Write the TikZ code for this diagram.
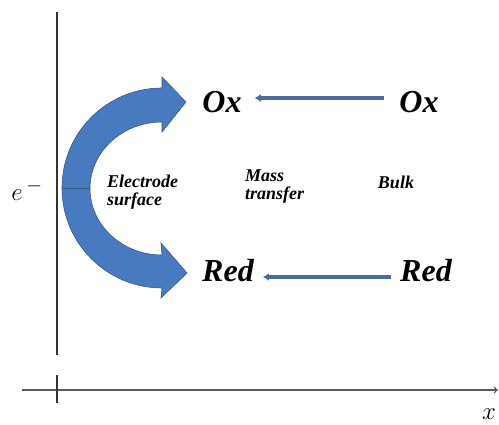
\documentclass[tikz,border=0pt]{standalone}
\usepackage{fontspec}
\setmainfont{Liberation Serif}
\usetikzlibrary{
    arrows.meta,
    positioning
}
\definecolor{arcblue}{RGB}{72,122,192}
\definecolor{arcedge}{RGB}{52,88,135}
\definecolor{fluxblue}{RGB}{72,108,158}

\begin{document}
\begin{tikzpicture}[
    x=1pt, y=1pt,
    >=Stealth,
    axis/.style={-{To[length=4pt,width=7pt]}, line width=1.1pt, black!65},
    electrode/.style={line width=2pt, black!80},
    flux/.style={-{Latex[length=6pt,width=8pt]}, line width=3.5pt, fluxblue},
    species/.style={font=\fontsize{32}{32}\selectfont\bfseries\itshape, inner sep=2pt},
    zone/.style={font=\fontsize{18}{18}\selectfont\bfseries\itshape, align=left, inner sep=0pt}
]
\useasboundingbox (0,0) rectangle (499,425);

% Electrode and distance axis
\coordinate (etop) at (57,413);
\coordinate (ebot) at (57,70);
\draw[electrode] (etop) -- (ebot);
\coordinate (xstart) at (22,35);
\coordinate (xend) at (498,35);
\draw[axis] (xstart) -- (xend);
\draw[electrode] (57,50) -- (57,22);
\node (xlab) at (489,11) {\fontsize{28}{28}\selectfont$x$};
\node (elec) at (27,235) {\fontsize{30}{30}\selectfont$e^{\,-}$};

% Curved arrow at the surface
\fill[arcblue, draw=arcedge, line width=0.6pt]
  (162,337) arc[start angle=90, end angle=270, radius=100]
  -- (161,127) -- (187,152) -- (161,182) -- (162,170)
  arc[start angle=270, end angle=90, x radius=72, y radius=66.5]
  -- (162,293) -- (186,323) -- (162,348) -- cycle;
\draw[arcedge, line width=0.6pt] (63,237) -- (90,237);

% Species
\node[species] (oxL) at (222,323) {Ox};
\node[species] (oxR) at (419,323) {Ox};
\node[species] (redL) at (228,154) {Red};
\node[species] (redR) at (426,154) {Red};

\draw[flux, shorten <=13pt, shorten >=11pt] ([yshift=4pt]oxR.west) -- ([yshift=4pt]oxL.east);
\draw[flux, shorten <=7pt, shorten >=7pt] ([yshift=-6pt]redR.west) -- ([yshift=-6pt]redL.east);

% Regions
\node[zone, anchor=west] (surface) at (107,233) {Electrode\\surface};
\node[zone, anchor=west] (transfer) at (245,238) {Mass\\transfer};
\node[zone] (bulk) at (396,243) {Bulk};
\end{tikzpicture}
\end{document}
